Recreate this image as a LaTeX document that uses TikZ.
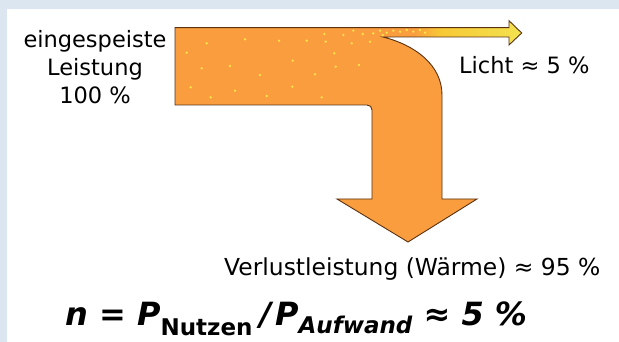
\documentclass[tikz,border=0pt]{standalone}
\usepackage{fontspec}
\setmainfont{DejaVu Sans}
\definecolor{bgblue}{HTML}{DCE6F1}
\definecolor{arrOrange}{HTML}{F99D3E}
\definecolor{arrLine}{HTML}{5A3212}
\definecolor{dotY}{HTML}{FFE24A}
\definecolor{bandY1}{HTML}{F7C935}
\definecolor{bandY2}{HTML}{F3E250}
\definecolor{bandY3}{HTML}{EEE03A}
\pgfdeclarehorizontalshading{bandshade}{100bp}{color(0bp)=(arrOrange); color(36bp)=(arrOrange); color(46bp)=(bandY1); color(75bp)=(bandY2); color(90bp)=(bandY3); color(100bp)=(bandY3)}
\tikzset{
  lbl/.style={inner sep=0pt, font=\fontsize{22.5}{28}\selectfont},
  dot/.style={fill=dotY, draw=none},
  outl/.style={draw=arrLine, line width=0.9pt, line join=miter}
}
\begin{document}
\begin{tikzpicture}[x=1pt,y=-1pt]
\useasboundingbox (0,0) rectangle (619,342);
\fill[bgblue] (0,0) rectangle (619,342);
\fill[white] (7,9) rectangle (619,342);
% main orange body
\fill[arrOrange] (175,27.7) -- (383,27.7) -- (383,37)
  .. controls (415,45) and (442,65) .. (442,95) -- (442,199) -- (477,199)
  -- (408,242) -- (337,199) -- (372,199) -- (372,110)
  .. controls (372,107) and (370,105) .. (367,105) -- (175,105) -- cycle;
% light band with head
\shade[shading=bandshade] (383,27.7) -- (509,27.7) -- (509,20.7) -- (521.7,33)
  -- (509,45) -- (509,37) -- (383,37) -- cycle;
% dots
\foreach \px/\py in {206.7/43.3, 245/39.3, 279/40.7, 306.7/40.7, 324.3/34, 325.7/41.7,
  343.3/35, 353.3/30.7, 362.7/34, 373.3/33.3, 351.7/43.3, 370/41.7, 334.3/53.3,
  186.7/52.7, 201.7/68.3, 230/66, 260/75, 292.7/60.7, 315/74.3, 335.7/66.7, 359/65,
  190.7/87.3, 235/90.7, 266.7/96, 292.3/86.7, 321.7/97.3, 210.7/97.3,
  380/30.7, 386.7/32.7, 393.3/30.7, 400/31.7, 406.7/30, 413.3/31.7, 420/30, 425/32.7, 382.7/35}
  \fill[dot] (\px,\py) circle (1.3pt);
% outline
\draw[outl] (175,27.7) -- (509,27.7) -- (509,20.7) -- (521.7,33) -- (509,45) -- (509,37)
  -- (383,37) .. controls (415,45) and (442,65) .. (442,95) -- (442,199) -- (477,199)
  -- (408,242) -- (337,199) -- (372,199) -- (372,110)
  .. controls (372,107) and (370,105) .. (367,105) -- (175,105) -- cycle;
% labels
\node[lbl, align=center, anchor=base] (input) at (95,104) {eingespeiste\\Leistung\\100 \%};
\node[lbl, anchor=base west] (licht) at (459,73.3) {Licht ≈ 5 \%};
\node[lbl, anchor=base west, font=\fontsize{23.4}{28}\selectfont] (waerme) at (224,276) {Verlustleistung (Wärme) ≈ 95 \%};
\node[inner sep=0pt, anchor=base west] (formula) at (65,325)
  {\fontsize{32}{36}\selectfont\bfseries\itshape n = P\raisebox{-10pt}{\upshape\fontsize{23}{26}\selectfont Nutzen}\hspace{7pt}/\hspace{4pt}P\raisebox{-8pt}{\fontsize{23}{26}\selectfont Aufwand} ≈ 5 \%};
\end{tikzpicture}
\end{document}
